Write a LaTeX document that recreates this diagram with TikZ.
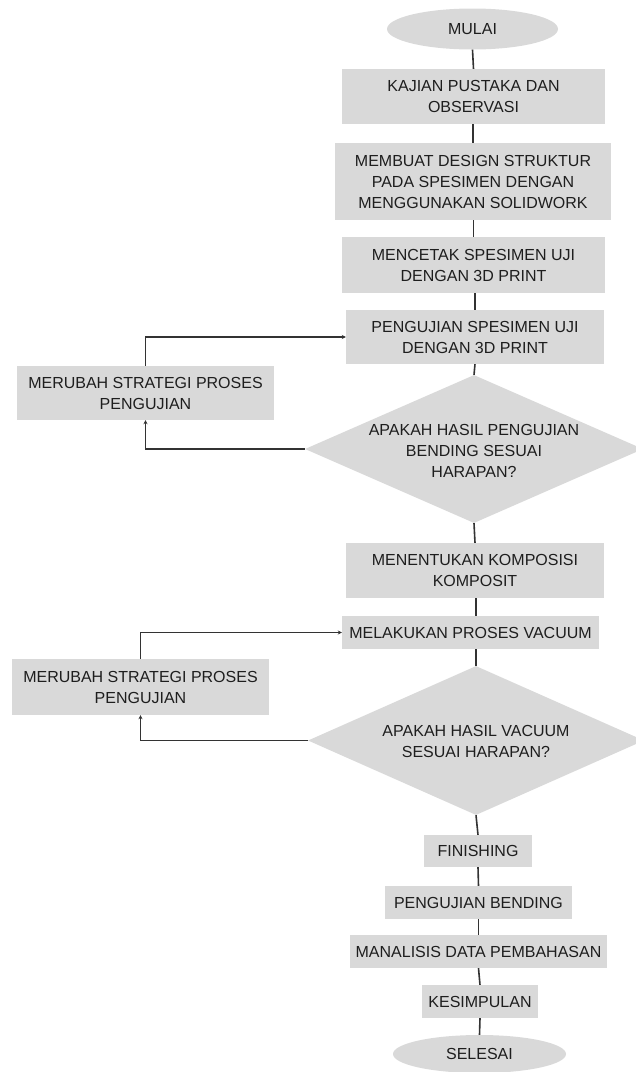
\documentclass[tikz,border=0pt]{standalone}
\usepackage{fontspec}
\setmainfont{Liberation Sans}
\usetikzlibrary{shapes.geometric,arrows.meta}
\definecolor{boxfill}{HTML}{D9D9D9}
\definecolor{linecol}{HTML}{333333}
\definecolor{txtcol}{HTML}{1E1E1E}
\tikzset{
  every node/.style={font=\fontsize{16}{21}\selectfont, text=txtcol},
  proc/.style={rectangle, fill=boxfill, draw=none, inner sep=0pt, align=center},
  term/.style={ellipse, fill=boxfill, draw=none, inner sep=0pt, align=center},
  dec/.style={diamond, fill=boxfill, draw=none, inner sep=0pt},
  txt/.style={align=center, inner sep=0pt},
  flow/.style={draw=linecol, line width=1.6pt},
  back/.style={draw=linecol, line width=1.4pt, -{Stealth[length=4pt,width=4pt]}}
}
\begin{document}
\begin{tikzpicture}[x=1pt,y=-1pt]
\useasboundingbox (0,0) rectangle (636,1072);
\begin{scope}
\clip (0,0) rectangle (636,1072);
\node[term, minimum width=171, minimum height=41] (mulai) at (472.5,29) {MULAI};
\node[proc, minimum width=263, minimum height=55] (kajian) at (473.5,96.5) {KAJIAN PUSTAKA DAN\\OBSERVASI};
\node[proc, minimum width=276, minimum height=77] (membuat) at (473,181.5) {MEMBUAT DESIGN STRUKTUR\\PADA SPESIMEN DENGAN\\MENGGUNAKAN SOLIDWORK};
\node[proc, minimum width=263, minimum height=56] (mencetak) at (473.5,265) {MENCETAK SPESIMEN UJI\\DENGAN 3D PRINT};
\node[proc, minimum width=258, minimum height=54] (uji) at (475,337) {PENGUJIAN SPESIMEN UJI\\DENGAN 3D PRINT};
\node[proc, minimum width=257, minimum height=54] (rubah1) at (145.5,393) {MERUBAH STRATEGI PROSES\\PENGUJIAN};
\node[dec, minimum width=338, minimum height=148] (d1) at (474,449) {};
\node[txt] (d1t) at (474,451) {APAKAH HASIL PENGUJIAN\\BENDING SESUAI\\HARAPAN?};
\node[proc, minimum width=258, minimum height=55] (tentukan) at (475,570.5) {MENENTUKAN KOMPOSISI\\KOMPOSIT};
\node[proc, minimum width=257, minimum height=33] (vacuum) at (470.5,632.5) {MELAKUKAN PROSES VACUUM};
\node[proc, minimum width=257, minimum height=56] (rubah2) at (140.5,687) {MERUBAH STRATEGI PROSES\\PENGUJIAN};
\node[dec, minimum width=336, minimum height=149] (d2) at (476,740.5) {};
\node[txt] (d2t) at (476,741) {APAKAH HASIL VACUUM\\SESUAI HARAPAN?};
\node[proc, minimum width=108, minimum height=32] (finish) at (478,851) {FINISHING};
\node[proc, minimum width=187, minimum height=33] (bending) at (478.5,902.5) {PENGUJIAN BENDING};
\node[proc, minimum width=257, minimum height=33] (analisis) at (478.5,951.5) {MANALISIS DATA PEMBAHASAN};
\node[proc, minimum width=116, minimum height=33] (simpul) at (480,1001.5) {KESIMPULAN};
\node[term, minimum width=173, minimum height=38] (selesai) at (479.5,1054) {SELESAI};
\end{scope}

\draw[flow] (mulai.south) -- (kajian.north);
\draw[flow] (kajian.south -| membuat.north) -- (membuat.north);
\draw[flow] (membuat.south -| mencetak.north) -- (mencetak.north);
\draw[flow] (mencetak.south -| uji.north) -- (uji.north);
\draw[flow] (uji.south) -- (d1.north);
\draw[flow] (d1.south) -- (tentukan.north);
\draw[flow] (tentukan.south -| d2.north) -- (vacuum.north -| d2.north);
\draw[flow] (vacuum.south -| d2.north) -- (d2.north);
\draw[flow] (d2.south) -- (finish.north);
\draw[flow] (finish.south) -- (bending.north);
\draw[flow] (bending.south) -- (analisis.north);
\draw[flow] (analisis.south) -- (simpul.north);
\draw[flow] (simpul.south) -- (selesai.north);

\draw[back] (rubah1.north) |- (uji.west);
\draw[back] (d1.west) -| (rubah1.south);
\draw[back] (rubah2.north) |- (vacuum.west);
\draw[back] (d2.west) -| (rubah2.south);
\end{tikzpicture}
\end{document}
